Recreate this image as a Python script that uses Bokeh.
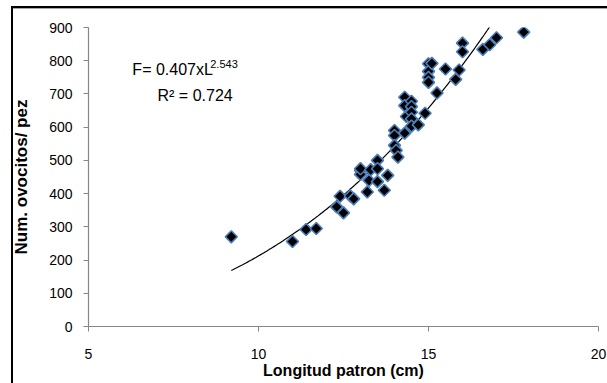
from bokeh.plotting import figure
from bokeh.models import Range1d, Label, FixedTicker
from bokeh.embed import file_html
from bokeh.resources import INLINE
import numpy as np

# Standard length (cm) and number of oocytes per fish
longitud = [9.2, 11.0, 11.4, 11.7, 12.3, 12.4, 12.5, 12.7, 12.8,
            13.0, 13.0, 13.0, 13.2, 13.25, 13.3, 13.5, 13.5, 13.5, 13.7, 13.8,
            14.0, 14.0, 14.0, 14.05, 14.1, 14.3, 14.3, 14.3, 14.35,
            14.5, 14.5, 14.5, 14.5, 14.5, 14.7, 14.9,
            15.0, 15.0, 15.0, 15.0, 15.1, 15.25, 15.5, 15.8, 15.9,
            16.0, 16.0, 16.6, 16.8, 17.0, 17.8]
ovocitos = [270, 256, 292, 295, 360, 392, 342, 393, 384,
            470, 458, 475, 405, 440, 472, 500, 475, 436, 410, 455,
            590, 575, 545, 530, 510, 582, 690, 665, 632,
            678, 662, 645, 625, 603, 607, 642,
            791, 768, 750, 735, 792, 703, 775, 744, 772,
            853, 827, 834, 848, 869, 886]

# Power trendline F = a * L^b drawn over the observed length range
trend_a = 0.347
trend_b = 2.787

x_ticks = [5, 10, 15, 20]
y_ticks = [0, 100, 200, 300, 400, 500, 600, 700, 800, 900]

FONT = "Liberation Sans"

p = figure(width=607, height=383, x_range=Range1d(5, 20), y_range=Range1d(0, 900),
           output_backend="svg", toolbar_location=None,
           min_border_left=88, min_border_right=9, min_border_top=27, min_border_bottom=57)
# chart-area box (left and top edges) painted behind a transparent canvas border
p.styles = {
    "background": ("linear-gradient(#000,#000) 11px 6px / 2px 100% no-repeat, "
                   "linear-gradient(#000,#000) 11px 6px / 100% 2px no-repeat, "
                   "linear-gradient(#a6a6a6,#a6a6a6) 13px 8px / 100% 1px no-repeat, "
                   "#fff"),
}
p.border_fill_alpha = 0
p.outline_line_color = None
p.xgrid.visible = False
p.ygrid.visible = False
p.background_fill_color = "white"

for ax in (p.xaxis, p.yaxis):
    ax.axis_line_color = "#868686"
    ax.axis_line_width = 1.2
    ax.major_tick_line_color = "#868686"
    ax.major_tick_out = 5
    ax.major_tick_in = 0
    ax.minor_tick_line_color = None
    ax.major_label_text_font = FONT
    ax.major_label_text_font_size = "14px"
    ax.major_label_text_color = "black"
    ax.axis_label_text_font = FONT
    ax.axis_label_text_font_style = "bold"
    ax.axis_label_text_color = "black"

p.xaxis.axis_label_text_font_size = "16px"
p.yaxis.axis_label_text_font_size = "17px"
p.xaxis.ticker = FixedTicker(ticks=x_ticks)
p.yaxis.ticker = FixedTicker(ticks=y_ticks)
p.xaxis.major_label_standoff = 17
p.yaxis.major_label_standoff = 11
p.xaxis.axis_label = "Longitud patron (cm)"
p.yaxis.axis_label = "Num. ovocitos/ pez"
p.xaxis.axis_label_standoff = 0
p.yaxis.axis_label_standoff = 15

# trendline
lx = np.linspace(min(longitud), max(longitud), 200)
p.line(lx, trend_a * lx ** trend_b, line_color="black", line_width=1.2)

# observations: black diamonds with blue edge
p.scatter(longitud, ovocitos, marker="square", angle=np.pi / 4, size=8.5,
          fill_color="black", line_color="#4a7ebb", line_width=1.6)

# regression equation
p.add_layout(Label(x=6.29, y=749, text="F= 0.407xL", text_font=FONT,
                   text_font_size="16px", text_color="black"))
p.add_layout(Label(x=8.58, y=777, text="2.543", text_font=FONT,
                   text_font_size="11px", text_color="black"))
p.add_layout(Label(x=7.03, y=671, text="R² = 0.724", text_font=FONT,
                   text_font_size="16px", text_color="black"))

open("out.html", "w").write(file_html(p, INLINE))
